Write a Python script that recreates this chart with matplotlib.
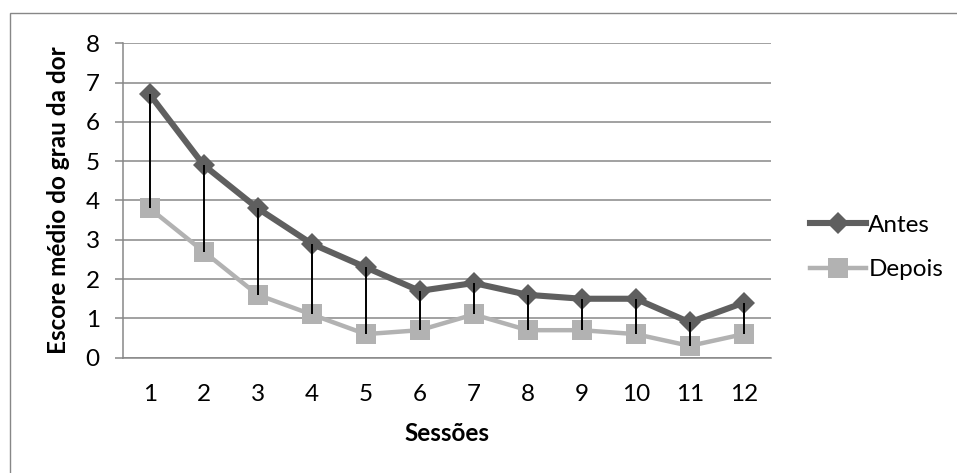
import numpy as np
import matplotlib
matplotlib.use("Agg")
import matplotlib.pyplot as plt
from matplotlib.patches import Rectangle

plt.rcParams['font.family'] = ['Lato', 'DejaVu Sans']

# dados
sessoes = [1, 2, 3, 4, 5, 6, 7, 8, 9, 10, 11, 12]
antes = [6.7, 4.9, 3.8, 2.9, 2.3, 1.7, 1.9, 1.6, 1.5, 1.5, 0.9, 1.4]
depois = [3.8, 2.7, 1.6, 1.1, 0.6, 0.7, 1.1, 0.7, 0.7, 0.6, 0.3, 0.6]
y_ticks = [0, 1, 2, 3, 4, 5, 6, 7, 8]

cor_antes = "#5f5f5f"
cor_depois = "#b2b2b2"
cor_grade = "#878787"
fs = 17.5

fig = plt.figure(figsize=(9.57, 4.73), dpi=100)
W, H = 957, 473
ax = fig.add_axes([122.7 / W, 1 - 357.7 / H, 648 / W, 314.4 / H])

# moldura externa (cortada na direita e embaixo)
fig.patches.append(Rectangle((10 / W, -0.1), 1.2, 1 - 13 / H + 0.1,
                             transform=fig.transFigure, fill=False,
                             edgecolor=cor_grade, linewidth=1.0))

x = np.array(sessoes)
ax.plot(x, depois, color=cor_depois, linewidth=3.2, marker='s',
        markersize=14.5, markeredgewidth=0, label="Depois", zorder=3)
ax.plot(x, antes, color=cor_antes, linewidth=4.4, marker='D',
        markersize=11.5, markeredgewidth=0, label="Antes", zorder=4)
# linhas de máximo/mínimo
ax.vlines(x, depois, antes, color="black", linewidth=1.4, zorder=5)

ax.set_xlim(0.5, 12.5)
ax.set_ylim(0, 8)
ax.set_yticks(y_ticks)
ax.set_xticks(sessoes)
ax.grid(axis='y', color=cor_grade, linewidth=1.1)
ax.set_axisbelow(True)
for s in ['top', 'right']:
    ax.spines[s].set_visible(False)
ax.spines['left'].set_color(cor_grade)
ax.spines['bottom'].set_color(cor_grade)
ax.spines['left'].set_linewidth(1.1)
ax.spines['bottom'].set_linewidth(1.1)
ax.tick_params(axis='y', length=5.5, width=1.1, color=cor_grade, pad=11,
               labelsize=fs)
ax.tick_params(axis='x', length=0, pad=19, labelsize=fs)

fig.text(59 / W, 1 - 200 / H, "Escore médio do grau da dor", rotation=90,
         ha='center', va='center', fontsize=fs, fontweight='bold')
fig.text(446.7 / W, 1 - 433 / H, "Sessões", ha='center', va='center',
         fontsize=fs, fontweight='bold')

handles, labels = ax.get_legend_handles_labels()
ax.legend(handles[::-1], labels[::-1], loc='center left',
          bbox_to_anchor=(1.0606, 0.3505), frameon=False, fontsize=fs,
          handlelength=2.3, handletextpad=0.1, labelspacing=0.95,
          borderpad=0, borderaxespad=0)

fig.savefig("out.png", dpi=100)
